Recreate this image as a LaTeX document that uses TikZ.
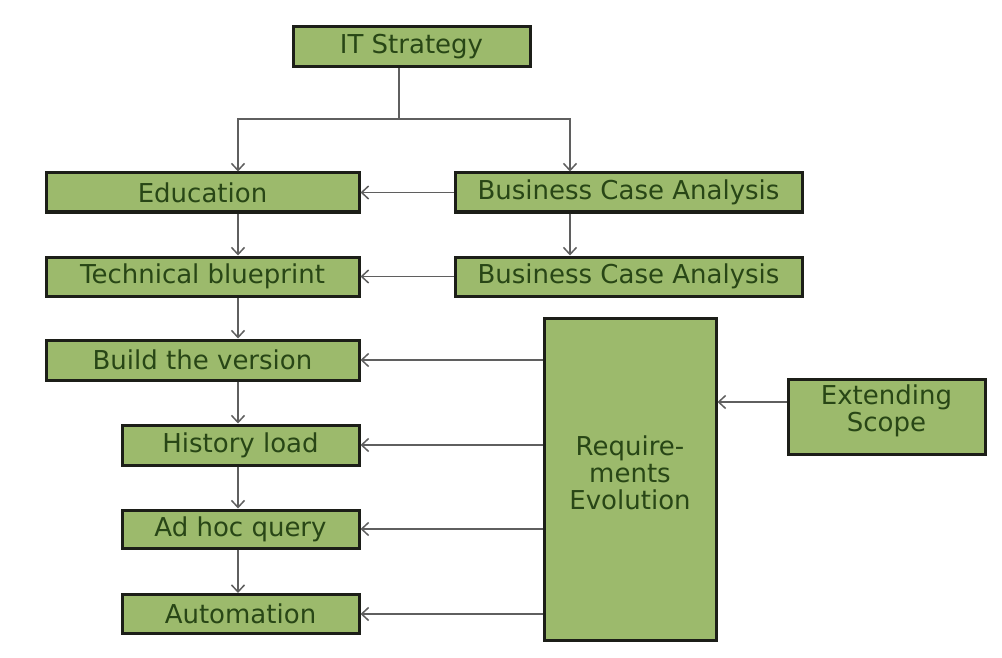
\documentclass[tikz,border=0pt]{standalone}
\usepackage{fontspec}
\setmainfont{DejaVu Sans}
\usetikzlibrary{arrows.meta}
\definecolor{boxfill}{RGB}{156,186,108}
\definecolor{boxtext}{RGB}{40,70,22}
\definecolor{boxedge}{RGB}{28,30,24}
\definecolor{linkgray}{RGB}{95,95,95}
\begin{document}
\begin{tikzpicture}[x=1pt,y=-1pt,
  boxtextstyle/.style={text=boxtext,font=\fontsize{26}{27}\selectfont,align=center,inner sep=0pt},
  stepbox/.style={draw=boxedge,line width=3pt,fill=boxfill,boxtextstyle},
  arr/.style={draw=linkgray,line width=1.5pt,-{Straight Barb[length=7pt,width=13pt]}},
  link/.style={draw=linkgray,line width=1.5pt}]
\useasboundingbox[fill=white] (0,0) rectangle (1002,658);

% process column and side boxes
\node[stepbox,minimum width=237,minimum height=40] (it) at (411.5,47) {IT Strategy};
\node[stepbox,minimum width=313,minimum height=39] (edu) at (202.5,192.5) {Education};
\node[stepbox,minimum width=347,minimum height=39] (bca1) at (628.5,192.5) {Business Case Analysis};
\node[stepbox,minimum width=313,minimum height=39] (tech) at (202.5,276.5) {Technical blueprint};
\node[stepbox,minimum width=347,minimum height=39] (bca2) at (628.5,276.5) {Business Case Analysis};
\node[stepbox,minimum width=313,minimum height=40] (build) at (202.5,360) {Build the version};
\node[stepbox,minimum width=237,minimum height=40] (hist) at (240.5,445) {History load};
\node[stepbox,minimum width=237,minimum height=38] (adhoc) at (240.5,529) {Ad hoc query};
\node[stepbox,minimum width=237,minimum height=39] (auto) at (240.5,614) {Automation};
\node[stepbox,minimum width=172,minimum height=322] (req) at (630,479) {};
\node[boxtextstyle] (reqtext) at (630,473) {Require-\\ments\\Evolution};
\node[stepbox,minimum width=197,minimum height=75] (ext) at (886.5,416.5) {};
\node[boxtextstyle] (exttext) at (886.5,411) {Extending\\Scope};

% routing columns and rows
\coordinate (spine) at (238,0);
\coordinate (bcol) at (570,0);
\coordinate (stem) at (399,0);
\coordinate (fork) at (0,119);
\coordinate (extrow) at (0,402);

% split from IT Strategy
\draw[link] (it.south -| stem) -- (fork -| stem);
\draw[arr] (fork -| stem) -- (fork -| spine) -- (edu.north -| spine);
\draw[arr] (fork -| stem) -- (fork -| bcol) -- (bca1.north -| bcol);

% main sequence
\draw[arr] (edu.south -| spine) -- (tech.north -| spine);
\draw[arr] (tech.south -| spine) -- (build.north -| spine);
\draw[arr] (build.south -| spine) -- (hist.north -| spine);
\draw[arr] (hist.south -| spine) -- (adhoc.north -| spine);
\draw[arr] (adhoc.south -| spine) -- (auto.north -| spine);

% business case chain
\draw[arr] (bca1.south -| bcol) -- (bca2.north -| bcol);
\draw[arr] (bca1.west) -- (edu.east);
\draw[arr] (bca2.west) -- (tech.east);

% requirements feedback
\draw[arr] (req.west |- build.east) -- (build.east);
\draw[arr] (req.west |- hist.east) -- (hist.east);
\draw[arr] (req.west |- adhoc.east) -- (adhoc.east);
\draw[arr] (req.west |- auto.east) -- (auto.east);
\draw[arr] (ext.west |- extrow) -- (req.east |- extrow);
\end{tikzpicture}
\end{document}
